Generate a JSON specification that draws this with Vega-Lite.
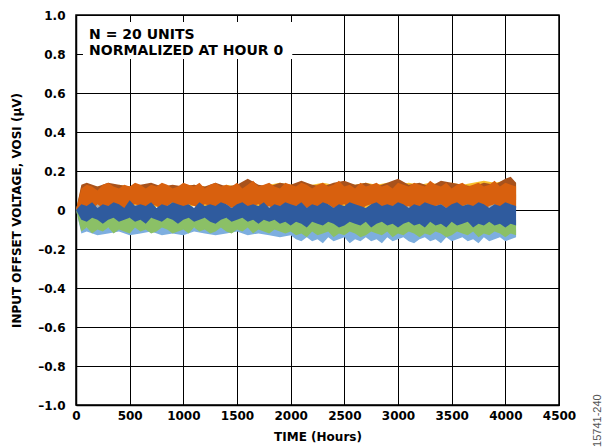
{
  "$schema": "https://vega.github.io/schema/vega-lite/v6.json",
  "width": 483,
  "height": 390,
  "autosize": {"type": "none"},
  "padding": {"left": 76, "top": 15, "right": 44, "bottom": 43},
  "background": "white",
  "config": {
    "view": {"stroke": "black", "strokeWidth": 1.5},
    "font": "DejaVu Sans",
    "axis": {
      "labelFont": "DejaVu Sans", "labelFontWeight": "bold", "labelFontSize": 12, "labelColor": "black",
      "titleFont": "DejaVu Sans", "titleFontWeight": "bold", "titleFontSize": 12, "titleColor": "black",
      "gridColor": "black", "gridOpacity": 1, "gridWidth": 1,
      "domainColor": "black", "domainWidth": 1.5, "ticks": false
    }
  },
  "datasets": {
    "bands": [
      {"s":"L","t":0,"lo":0,"hi":0},{"s":"L","t":50,"lo":-0.12,"hi":-0.08},{"s":"L","t":100,"lo":-0.11,"hi":-0.09},{"s":"L","t":200,"lo":-0.13,"hi":-0.08},{"s":"L","t":300,"lo":-0.12,"hi":-0.09},{"s":"L","t":400,"lo":-0.11,"hi":-0.08},{"s":"L","t":500,"lo":-0.13,"hi":-0.09},{"s":"L","t":600,"lo":-0.12,"hi":-0.08},{"s":"L","t":700,"lo":-0.11,"hi":-0.09},{"s":"L","t":800,"lo":-0.13,"hi":-0.08},{"s":"L","t":900,"lo":-0.12,"hi":-0.09},{"s":"L","t":1000,"lo":-0.13,"hi":-0.08},{"s":"L","t":1100,"lo":-0.11,"hi":-0.09},{"s":"L","t":1200,"lo":-0.12,"hi":-0.08},{"s":"L","t":1300,"lo":-0.13,"hi":-0.09},{"s":"L","t":1400,"lo":-0.12,"hi":-0.08},{"s":"L","t":1500,"lo":-0.11,"hi":-0.09},{"s":"L","t":1600,"lo":-0.13,"hi":-0.08},{"s":"L","t":1700,"lo":-0.12,"hi":-0.09},{"s":"L","t":1800,"lo":-0.13,"hi":-0.08},{"s":"L","t":1900,"lo":-0.14,"hi":-0.09},{"s":"L","t":2000,"lo":-0.13,"hi":-0.09},{"s":"L","t":2050,"lo":-0.15,"hi":-0.1},{"s":"L","t":2100,"lo":-0.16,"hi":-0.1},{"s":"L","t":2150,"lo":-0.14,"hi":-0.1},{"s":"L","t":2200,"lo":-0.16,"hi":-0.1},{"s":"L","t":2250,"lo":-0.15,"hi":-0.1},{"s":"L","t":2300,"lo":-0.17,"hi":-0.1},{"s":"L","t":2350,"lo":-0.14,"hi":-0.1},{"s":"L","t":2400,"lo":-0.16,"hi":-0.1},{"s":"L","t":2450,"lo":-0.15,"hi":-0.1},{"s":"L","t":2500,"lo":-0.14,"hi":-0.1},{"s":"L","t":2550,"lo":-0.17,"hi":-0.1},{"s":"L","t":2600,"lo":-0.15,"hi":-0.1},{"s":"L","t":2650,"lo":-0.16,"hi":-0.1},{"s":"L","t":2700,"lo":-0.14,"hi":-0.1},{"s":"L","t":2750,"lo":-0.16,"hi":-0.1},{"s":"L","t":2800,"lo":-0.15,"hi":-0.1},{"s":"L","t":2850,"lo":-0.17,"hi":-0.1},{"s":"L","t":2900,"lo":-0.14,"hi":-0.1},{"s":"L","t":2950,"lo":-0.16,"hi":-0.1},{"s":"L","t":3000,"lo":-0.15,"hi":-0.1},{"s":"L","t":3050,"lo":-0.14,"hi":-0.1},{"s":"L","t":3100,"lo":-0.16,"hi":-0.1},{"s":"L","t":3150,"lo":-0.17,"hi":-0.1},{"s":"L","t":3200,"lo":-0.15,"hi":-0.1},{"s":"L","t":3250,"lo":-0.14,"hi":-0.1},{"s":"L","t":3300,"lo":-0.16,"hi":-0.1},{"s":"L","t":3350,"lo":-0.15,"hi":-0.1},{"s":"L","t":3400,"lo":-0.17,"hi":-0.1},{"s":"L","t":3450,"lo":-0.14,"hi":-0.1},{"s":"L","t":3500,"lo":-0.16,"hi":-0.1},{"s":"L","t":3550,"lo":-0.15,"hi":-0.1},{"s":"L","t":3600,"lo":-0.14,"hi":-0.1},{"s":"L","t":3650,"lo":-0.16,"hi":-0.1},{"s":"L","t":3700,"lo":-0.15,"hi":-0.1},{"s":"L","t":3750,"lo":-0.17,"hi":-0.1},{"s":"L","t":3800,"lo":-0.14,"hi":-0.1},{"s":"L","t":3850,"lo":-0.16,"hi":-0.1},{"s":"L","t":3900,"lo":-0.15,"hi":-0.1},{"s":"L","t":3950,"lo":-0.14,"hi":-0.1},{"s":"L","t":4000,"lo":-0.16,"hi":-0.1},{"s":"L","t":4050,"lo":-0.15,"hi":-0.1},{"s":"L","t":4100,"lo":-0.14,"hi":-0.1},

      {"s":"G","t":0,"lo":0,"hi":0},{"s":"G","t":50,"lo":-0.11,"hi":-0.03},{"s":"G","t":100,"lo":-0.09,"hi":-0.04},{"s":"G","t":150,"lo":-0.12,"hi":-0.03},{"s":"G","t":200,"lo":-0.1,"hi":-0.04},{"s":"G","t":250,"lo":-0.11,"hi":-0.03},{"s":"G","t":300,"lo":-0.09,"hi":-0.04},{"s":"G","t":350,"lo":-0.12,"hi":-0.03},{"s":"G","t":400,"lo":-0.1,"hi":-0.04},{"s":"G","t":450,"lo":-0.11,"hi":-0.03},{"s":"G","t":500,"lo":-0.12,"hi":-0.04},{"s":"G","t":550,"lo":-0.09,"hi":-0.03},{"s":"G","t":600,"lo":-0.11,"hi":-0.04},{"s":"G","t":650,"lo":-0.1,"hi":-0.03},{"s":"G","t":700,"lo":-0.12,"hi":-0.04},{"s":"G","t":750,"lo":-0.11,"hi":-0.03},{"s":"G","t":800,"lo":-0.09,"hi":-0.04},{"s":"G","t":850,"lo":-0.1,"hi":-0.03},{"s":"G","t":900,"lo":-0.12,"hi":-0.04},{"s":"G","t":950,"lo":-0.11,"hi":-0.03},{"s":"G","t":1000,"lo":-0.1,"hi":-0.04},{"s":"G","t":1050,"lo":-0.12,"hi":-0.03},{"s":"G","t":1100,"lo":-0.09,"hi":-0.04},{"s":"G","t":1150,"lo":-0.11,"hi":-0.03},{"s":"G","t":1200,"lo":-0.1,"hi":-0.04},{"s":"G","t":1250,"lo":-0.12,"hi":-0.03},{"s":"G","t":1300,"lo":-0.11,"hi":-0.04},{"s":"G","t":1350,"lo":-0.09,"hi":-0.03},{"s":"G","t":1400,"lo":-0.11,"hi":-0.04},{"s":"G","t":1450,"lo":-0.12,"hi":-0.03},{"s":"G","t":1500,"lo":-0.1,"hi":-0.04},{"s":"G","t":1550,"lo":-0.11,"hi":-0.03},{"s":"G","t":1600,"lo":-0.09,"hi":-0.04},{"s":"G","t":1650,"lo":-0.12,"hi":-0.03},{"s":"G","t":1700,"lo":-0.1,"hi":-0.04},{"s":"G","t":1750,"lo":-0.11,"hi":-0.03},{"s":"G","t":1800,"lo":-0.12,"hi":-0.04},{"s":"G","t":1850,"lo":-0.1,"hi":-0.03},{"s":"G","t":1900,"lo":-0.11,"hi":-0.04},{"s":"G","t":1950,"lo":-0.12,"hi":-0.03},{"s":"G","t":2000,"lo":-0.11,"hi":-0.05},{"s":"G","t":2050,"lo":-0.13,"hi":-0.04},{"s":"G","t":2100,"lo":-0.12,"hi":-0.05},{"s":"G","t":2150,"lo":-0.14,"hi":-0.04},{"s":"G","t":2200,"lo":-0.11,"hi":-0.05},{"s":"G","t":2250,"lo":-0.13,"hi":-0.04},{"s":"G","t":2300,"lo":-0.12,"hi":-0.05},{"s":"G","t":2350,"lo":-0.11,"hi":-0.04},{"s":"G","t":2400,"lo":-0.14,"hi":-0.05},{"s":"G","t":2450,"lo":-0.12,"hi":-0.04},{"s":"G","t":2500,"lo":-0.13,"hi":-0.05},{"s":"G","t":2550,"lo":-0.11,"hi":-0.04},{"s":"G","t":2600,"lo":-0.12,"hi":-0.05},{"s":"G","t":2650,"lo":-0.14,"hi":-0.04},{"s":"G","t":2700,"lo":-0.13,"hi":-0.05},{"s":"G","t":2750,"lo":-0.11,"hi":-0.04},{"s":"G","t":2800,"lo":-0.12,"hi":-0.05},{"s":"G","t":2850,"lo":-0.13,"hi":-0.04},{"s":"G","t":2900,"lo":-0.11,"hi":-0.05},{"s":"G","t":2950,"lo":-0.14,"hi":-0.04},{"s":"G","t":3000,"lo":-0.12,"hi":-0.05},{"s":"G","t":3050,"lo":-0.13,"hi":-0.04},{"s":"G","t":3100,"lo":-0.11,"hi":-0.05},{"s":"G","t":3150,"lo":-0.12,"hi":-0.04},{"s":"G","t":3200,"lo":-0.14,"hi":-0.05},{"s":"G","t":3250,"lo":-0.12,"hi":-0.04},{"s":"G","t":3300,"lo":-0.13,"hi":-0.05},{"s":"G","t":3350,"lo":-0.11,"hi":-0.04},{"s":"G","t":3400,"lo":-0.12,"hi":-0.05},{"s":"G","t":3450,"lo":-0.14,"hi":-0.04},{"s":"G","t":3500,"lo":-0.13,"hi":-0.05},{"s":"G","t":3550,"lo":-0.11,"hi":-0.04},{"s":"G","t":3600,"lo":-0.12,"hi":-0.05},{"s":"G","t":3650,"lo":-0.13,"hi":-0.04},{"s":"G","t":3700,"lo":-0.11,"hi":-0.05},{"s":"G","t":3750,"lo":-0.14,"hi":-0.04},{"s":"G","t":3800,"lo":-0.12,"hi":-0.05},{"s":"G","t":3850,"lo":-0.13,"hi":-0.04},{"s":"G","t":3900,"lo":-0.11,"hi":-0.05},{"s":"G","t":3950,"lo":-0.12,"hi":-0.04},{"s":"G","t":4000,"lo":-0.14,"hi":-0.05},{"s":"G","t":4050,"lo":-0.12,"hi":-0.04},{"s":"G","t":4100,"lo":-0.13,"hi":-0.05},

      {"s":"Gr","t":0,"lo":0,"hi":0},{"s":"Gr","t":100,"lo":0.02,"hi":0.08},{"s":"Gr","t":200,"lo":0.01,"hi":0.08},{"s":"Gr","t":300,"lo":0.02,"hi":0.08},{"s":"Gr","t":400,"lo":0.01,"hi":0.08},{"s":"Gr","t":500,"lo":0.02,"hi":0.08},{"s":"Gr","t":600,"lo":0.01,"hi":0.08},{"s":"Gr","t":700,"lo":0.02,"hi":0.08},{"s":"Gr","t":800,"lo":0.01,"hi":0.08},{"s":"Gr","t":900,"lo":0.02,"hi":0.08},{"s":"Gr","t":1000,"lo":0.01,"hi":0.08},{"s":"Gr","t":1100,"lo":0.02,"hi":0.08},{"s":"Gr","t":1200,"lo":0.01,"hi":0.08},{"s":"Gr","t":1300,"lo":0.02,"hi":0.08},{"s":"Gr","t":1400,"lo":0.01,"hi":0.08},{"s":"Gr","t":1500,"lo":0.02,"hi":0.08},{"s":"Gr","t":1600,"lo":0.01,"hi":0.08},{"s":"Gr","t":1700,"lo":0.02,"hi":0.08},{"s":"Gr","t":1800,"lo":0.01,"hi":0.08},{"s":"Gr","t":1900,"lo":0.02,"hi":0.08},{"s":"Gr","t":2000,"lo":0.01,"hi":0.08},{"s":"Gr","t":2100,"lo":0.0,"hi":0.08},{"s":"Gr","t":2200,"lo":0.01,"hi":0.08},{"s":"Gr","t":2300,"lo":0.0,"hi":0.08},{"s":"Gr","t":2400,"lo":0.01,"hi":0.08},{"s":"Gr","t":2500,"lo":0.0,"hi":0.08},{"s":"Gr","t":2600,"lo":0.01,"hi":0.08},{"s":"Gr","t":2700,"lo":0.0,"hi":0.08},{"s":"Gr","t":2800,"lo":0.01,"hi":0.08},{"s":"Gr","t":2900,"lo":0.0,"hi":0.08},{"s":"Gr","t":3000,"lo":0.01,"hi":0.08},{"s":"Gr","t":3100,"lo":0.0,"hi":0.08},{"s":"Gr","t":3200,"lo":0.01,"hi":0.08},{"s":"Gr","t":3300,"lo":0.0,"hi":0.08},{"s":"Gr","t":3400,"lo":0.01,"hi":0.08},{"s":"Gr","t":3500,"lo":0.0,"hi":0.08},{"s":"Gr","t":3600,"lo":0.01,"hi":0.08},{"s":"Gr","t":3700,"lo":0.0,"hi":0.08},{"s":"Gr","t":3800,"lo":0.01,"hi":0.08},{"s":"Gr","t":3900,"lo":0.0,"hi":0.08},{"s":"Gr","t":4000,"lo":0.01,"hi":0.08},{"s":"Gr","t":4100,"lo":0.0,"hi":0.08},

      {"s":"Y","t":0,"lo":0,"hi":0},{"s":"Y","t":50,"lo":0.02,"hi":0.12},{"s":"Y","t":100,"lo":0.01,"hi":0.11},{"s":"Y","t":200,"lo":0.03,"hi":0.12},{"s":"Y","t":300,"lo":0.02,"hi":0.11},{"s":"Y","t":400,"lo":0.01,"hi":0.13},{"s":"Y","t":500,"lo":0.02,"hi":0.12},{"s":"Y","t":600,"lo":0.03,"hi":0.11},{"s":"Y","t":700,"lo":0.01,"hi":0.12},{"s":"Y","t":800,"lo":0.02,"hi":0.13},{"s":"Y","t":900,"lo":0.03,"hi":0.11},{"s":"Y","t":1000,"lo":0.01,"hi":0.12},{"s":"Y","t":1100,"lo":0.02,"hi":0.13},{"s":"Y","t":1200,"lo":0.01,"hi":0.12},{"s":"Y","t":1300,"lo":0.02,"hi":0.11},{"s":"Y","t":1400,"lo":0.03,"hi":0.13},{"s":"Y","t":1500,"lo":0.01,"hi":0.12},{"s":"Y","t":1600,"lo":0.02,"hi":0.13},{"s":"Y","t":1700,"lo":0.01,"hi":0.12},{"s":"Y","t":1800,"lo":0.02,"hi":0.13},{"s":"Y","t":1900,"lo":0.03,"hi":0.14},{"s":"Y","t":2000,"lo":0.01,"hi":0.13},{"s":"Y","t":2100,"lo":0.02,"hi":0.14},{"s":"Y","t":2200,"lo":0.01,"hi":0.13},{"s":"Y","t":2300,"lo":0.02,"hi":0.14},{"s":"Y","t":2400,"lo":0.03,"hi":0.13},{"s":"Y","t":2500,"lo":0.01,"hi":0.14},{"s":"Y","t":2600,"lo":0.02,"hi":0.13},{"s":"Y","t":2700,"lo":0.01,"hi":0.14},{"s":"Y","t":2800,"lo":0.02,"hi":0.13},{"s":"Y","t":2900,"lo":0.03,"hi":0.14},{"s":"Y","t":3000,"lo":0.01,"hi":0.13},{"s":"Y","t":3100,"lo":0.02,"hi":0.14},{"s":"Y","t":3200,"lo":0.01,"hi":0.13},{"s":"Y","t":3300,"lo":0.02,"hi":0.14},{"s":"Y","t":3400,"lo":0.03,"hi":0.13},{"s":"Y","t":3500,"lo":0.01,"hi":0.14},{"s":"Y","t":3600,"lo":0.02,"hi":0.13},{"s":"Y","t":3700,"lo":0.01,"hi":0.14},{"s":"Y","t":3800,"lo":0.02,"hi":0.15},{"s":"Y","t":3900,"lo":0.03,"hi":0.14},{"s":"Y","t":4000,"lo":0.02,"hi":0.15},{"s":"Y","t":4100,"lo":0.01,"hi":0.14},

      {"s":"R","t":0,"lo":0,"hi":0},{"s":"R","t":50,"lo":0.05,"hi":0.13},{"s":"R","t":100,"lo":0.06,"hi":0.14},{"s":"R","t":200,"lo":0.05,"hi":0.12},{"s":"R","t":300,"lo":0.06,"hi":0.14},{"s":"R","t":400,"lo":0.05,"hi":0.13},{"s":"R","t":500,"lo":0.06,"hi":0.12},{"s":"R","t":600,"lo":0.05,"hi":0.13},{"s":"R","t":700,"lo":0.06,"hi":0.14},{"s":"R","t":800,"lo":0.05,"hi":0.12},{"s":"R","t":900,"lo":0.06,"hi":0.13},{"s":"R","t":1000,"lo":0.05,"hi":0.12},{"s":"R","t":1100,"lo":0.06,"hi":0.13},{"s":"R","t":1200,"lo":0.05,"hi":0.12},{"s":"R","t":1300,"lo":0.06,"hi":0.14},{"s":"R","t":1400,"lo":0.05,"hi":0.12},{"s":"R","t":1500,"lo":0.06,"hi":0.13},{"s":"R","t":1600,"lo":0.05,"hi":0.16},{"s":"R","t":1700,"lo":0.06,"hi":0.13},{"s":"R","t":1800,"lo":0.05,"hi":0.12},{"s":"R","t":1900,"lo":0.06,"hi":0.14},{"s":"R","t":2000,"lo":0.05,"hi":0.13},{"s":"R","t":2100,"lo":0.06,"hi":0.15},{"s":"R","t":2200,"lo":0.05,"hi":0.13},{"s":"R","t":2300,"lo":0.06,"hi":0.12},{"s":"R","t":2400,"lo":0.05,"hi":0.14},{"s":"R","t":2500,"lo":0.06,"hi":0.15},{"s":"R","t":2600,"lo":0.05,"hi":0.13},{"s":"R","t":2700,"lo":0.06,"hi":0.14},{"s":"R","t":2800,"lo":0.05,"hi":0.12},{"s":"R","t":2900,"lo":0.06,"hi":0.14},{"s":"R","t":3000,"lo":0.05,"hi":0.16},{"s":"R","t":3100,"lo":0.06,"hi":0.13},{"s":"R","t":3200,"lo":0.05,"hi":0.14},{"s":"R","t":3300,"lo":0.06,"hi":0.12},{"s":"R","t":3400,"lo":0.05,"hi":0.15},{"s":"R","t":3500,"lo":0.06,"hi":0.14},{"s":"R","t":3600,"lo":0.05,"hi":0.13},{"s":"R","t":3700,"lo":0.06,"hi":0.12},{"s":"R","t":3800,"lo":0.05,"hi":0.14},{"s":"R","t":3900,"lo":0.06,"hi":0.13},{"s":"R","t":4000,"lo":0.05,"hi":0.16},{"s":"R","t":4050,"lo":0.06,"hi":0.17},{"s":"R","t":4100,"lo":0.05,"hi":0.14},

      {"s":"O","t":0,"lo":0,"hi":0},{"s":"O","t":50,"lo":0.01,"hi":0.11},{"s":"O","t":100,"lo":0.02,"hi":0.13},{"s":"O","t":150,"lo":0.0,"hi":0.12},{"s":"O","t":200,"lo":0.03,"hi":0.1},{"s":"O","t":250,"lo":0.01,"hi":0.13},{"s":"O","t":300,"lo":0.02,"hi":0.14},{"s":"O","t":350,"lo":0.03,"hi":0.12},{"s":"O","t":400,"lo":0.01,"hi":0.11},{"s":"O","t":450,"lo":0.0,"hi":0.13},{"s":"O","t":500,"lo":0.02,"hi":0.12},{"s":"O","t":550,"lo":0.03,"hi":0.14},{"s":"O","t":600,"lo":0.02,"hi":0.13},{"s":"O","t":650,"lo":0.01,"hi":0.11},{"s":"O","t":700,"lo":0.03,"hi":0.13},{"s":"O","t":750,"lo":0.02,"hi":0.12},{"s":"O","t":800,"lo":0.0,"hi":0.14},{"s":"O","t":850,"lo":0.02,"hi":0.13},{"s":"O","t":900,"lo":0.04,"hi":0.11},{"s":"O","t":950,"lo":0.02,"hi":0.12},{"s":"O","t":1000,"lo":0.01,"hi":0.14},{"s":"O","t":1050,"lo":0.03,"hi":0.13},{"s":"O","t":1100,"lo":0.02,"hi":0.12},{"s":"O","t":1150,"lo":0.01,"hi":0.14},{"s":"O","t":1200,"lo":0.03,"hi":0.11},{"s":"O","t":1250,"lo":0.02,"hi":0.13},{"s":"O","t":1300,"lo":0.0,"hi":0.14},{"s":"O","t":1350,"lo":0.02,"hi":0.12},{"s":"O","t":1400,"lo":0.03,"hi":0.13},{"s":"O","t":1450,"lo":0.01,"hi":0.12},{"s":"O","t":1500,"lo":0.02,"hi":0.14},{"s":"O","t":1550,"lo":0.03,"hi":0.11},{"s":"O","t":1600,"lo":0.01,"hi":0.13},{"s":"O","t":1650,"lo":0.02,"hi":0.15},{"s":"O","t":1700,"lo":0.03,"hi":0.12},{"s":"O","t":1750,"lo":0.01,"hi":0.13},{"s":"O","t":1800,"lo":0.02,"hi":0.14},{"s":"O","t":1850,"lo":0.0,"hi":0.12},{"s":"O","t":1900,"lo":0.02,"hi":0.11},{"s":"O","t":1950,"lo":0.03,"hi":0.14},{"s":"O","t":2000,"lo":0.01,"hi":0.13},{"s":"O","t":2050,"lo":0.02,"hi":0.12},{"s":"O","t":2100,"lo":0.03,"hi":0.14},{"s":"O","t":2150,"lo":0.01,"hi":0.13},{"s":"O","t":2200,"lo":0.02,"hi":0.11},{"s":"O","t":2250,"lo":0.0,"hi":0.13},{"s":"O","t":2300,"lo":0.02,"hi":0.14},{"s":"O","t":2350,"lo":0.03,"hi":0.12},{"s":"O","t":2400,"lo":0.01,"hi":0.13},{"s":"O","t":2450,"lo":0.02,"hi":0.15},{"s":"O","t":2500,"lo":0.03,"hi":0.12},{"s":"O","t":2550,"lo":0.01,"hi":0.13},{"s":"O","t":2600,"lo":0.02,"hi":0.11},{"s":"O","t":2650,"lo":0.0,"hi":0.14},{"s":"O","t":2700,"lo":0.02,"hi":0.12},{"s":"O","t":2750,"lo":0.03,"hi":0.13},{"s":"O","t":2800,"lo":0.01,"hi":0.14},{"s":"O","t":2850,"lo":0.02,"hi":0.12},{"s":"O","t":2900,"lo":0.0,"hi":0.13},{"s":"O","t":2950,"lo":0.02,"hi":0.11},{"s":"O","t":3000,"lo":0.03,"hi":0.14},{"s":"O","t":3050,"lo":0.01,"hi":0.13},{"s":"O","t":3100,"lo":0.02,"hi":0.12},{"s":"O","t":3150,"lo":0.0,"hi":0.14},{"s":"O","t":3200,"lo":0.02,"hi":0.13},{"s":"O","t":3250,"lo":0.03,"hi":0.12},{"s":"O","t":3300,"lo":0.01,"hi":0.15},{"s":"O","t":3350,"lo":0.02,"hi":0.13},{"s":"O","t":3400,"lo":0.03,"hi":0.12},{"s":"O","t":3450,"lo":0.01,"hi":0.14},{"s":"O","t":3500,"lo":0.02,"hi":0.11},{"s":"O","t":3550,"lo":0.0,"hi":0.13},{"s":"O","t":3600,"lo":0.02,"hi":0.14},{"s":"O","t":3650,"lo":0.03,"hi":0.12},{"s":"O","t":3700,"lo":0.01,"hi":0.13},{"s":"O","t":3750,"lo":0.02,"hi":0.14},{"s":"O","t":3800,"lo":0.0,"hi":0.12},{"s":"O","t":3850,"lo":0.02,"hi":0.13},{"s":"O","t":3900,"lo":0.03,"hi":0.15},{"s":"O","t":3950,"lo":0.01,"hi":0.12},{"s":"O","t":4000,"lo":0.02,"hi":0.14},{"s":"O","t":4050,"lo":0.03,"hi":0.13},{"s":"O","t":4100,"lo":0.01,"hi":0.12},

      {"s":"B","t":0,"lo":0,"hi":0},{"s":"B","t":50,"lo":-0.05,"hi":0.03},{"s":"B","t":100,"lo":-0.06,"hi":0.02},{"s":"B","t":150,"lo":-0.04,"hi":0.04},{"s":"B","t":200,"lo":-0.05,"hi":0.01},{"s":"B","t":250,"lo":-0.07,"hi":0.03},{"s":"B","t":300,"lo":-0.05,"hi":0.02},{"s":"B","t":350,"lo":-0.04,"hi":0.04},{"s":"B","t":400,"lo":-0.06,"hi":0.03},{"s":"B","t":450,"lo":-0.05,"hi":0.01},{"s":"B","t":500,"lo":-0.04,"hi":0.05},{"s":"B","t":550,"lo":-0.06,"hi":0.02},{"s":"B","t":600,"lo":-0.05,"hi":0.03},{"s":"B","t":650,"lo":-0.07,"hi":0.02},{"s":"B","t":700,"lo":-0.04,"hi":0.04},{"s":"B","t":750,"lo":-0.05,"hi":0.01},{"s":"B","t":800,"lo":-0.06,"hi":0.03},{"s":"B","t":850,"lo":-0.04,"hi":0.02},{"s":"B","t":900,"lo":-0.05,"hi":0.04},{"s":"B","t":950,"lo":-0.07,"hi":0.03},{"s":"B","t":1000,"lo":-0.05,"hi":0.02},{"s":"B","t":1050,"lo":-0.04,"hi":0.03},{"s":"B","t":1100,"lo":-0.06,"hi":0.01},{"s":"B","t":1150,"lo":-0.05,"hi":0.04},{"s":"B","t":1200,"lo":-0.04,"hi":0.02},{"s":"B","t":1250,"lo":-0.06,"hi":0.03},{"s":"B","t":1300,"lo":-0.07,"hi":0.02},{"s":"B","t":1350,"lo":-0.05,"hi":0.04},{"s":"B","t":1400,"lo":-0.04,"hi":0.03},{"s":"B","t":1450,"lo":-0.06,"hi":0.01},{"s":"B","t":1500,"lo":-0.05,"hi":0.03},{"s":"B","t":1550,"lo":-0.04,"hi":0.04},{"s":"B","t":1600,"lo":-0.06,"hi":0.02},{"s":"B","t":1650,"lo":-0.05,"hi":0.03},{"s":"B","t":1700,"lo":-0.07,"hi":0.02},{"s":"B","t":1750,"lo":-0.05,"hi":0.04},{"s":"B","t":1800,"lo":-0.06,"hi":0.01},{"s":"B","t":1850,"lo":-0.05,"hi":0.03},{"s":"B","t":1900,"lo":-0.07,"hi":0.02},{"s":"B","t":1950,"lo":-0.06,"hi":0.04},{"s":"B","t":2000,"lo":-0.08,"hi":0.03},{"s":"B","t":2050,"lo":-0.06,"hi":0.02},{"s":"B","t":2100,"lo":-0.07,"hi":0.04},{"s":"B","t":2150,"lo":-0.09,"hi":0.01},{"s":"B","t":2200,"lo":-0.06,"hi":0.03},{"s":"B","t":2250,"lo":-0.07,"hi":0.02},{"s":"B","t":2300,"lo":-0.08,"hi":0.04},{"s":"B","t":2350,"lo":-0.06,"hi":0.03},{"s":"B","t":2400,"lo":-0.07,"hi":0.01},{"s":"B","t":2450,"lo":-0.09,"hi":0.03},{"s":"B","t":2500,"lo":-0.08,"hi":0.02},{"s":"B","t":2550,"lo":-0.06,"hi":0.04},{"s":"B","t":2600,"lo":-0.07,"hi":0.03},{"s":"B","t":2650,"lo":-0.08,"hi":0.02},{"s":"B","t":2700,"lo":-0.06,"hi":0.01},{"s":"B","t":2750,"lo":-0.09,"hi":0.03},{"s":"B","t":2800,"lo":-0.07,"hi":0.04},{"s":"B","t":2850,"lo":-0.06,"hi":0.02},{"s":"B","t":2900,"lo":-0.08,"hi":0.03},{"s":"B","t":2950,"lo":-0.07,"hi":0.02},{"s":"B","t":3000,"lo":-0.09,"hi":0.04},{"s":"B","t":3050,"lo":-0.07,"hi":0.03},{"s":"B","t":3100,"lo":-0.06,"hi":0.01},{"s":"B","t":3150,"lo":-0.08,"hi":0.03},{"s":"B","t":3200,"lo":-0.07,"hi":0.02},{"s":"B","t":3250,"lo":-0.09,"hi":0.04},{"s":"B","t":3300,"lo":-0.06,"hi":0.03},{"s":"B","t":3350,"lo":-0.08,"hi":0.02},{"s":"B","t":3400,"lo":-0.07,"hi":0.03},{"s":"B","t":3450,"lo":-0.09,"hi":0.01},{"s":"B","t":3500,"lo":-0.06,"hi":0.03},{"s":"B","t":3550,"lo":-0.08,"hi":0.04},{"s":"B","t":3600,"lo":-0.07,"hi":0.02},{"s":"B","t":3650,"lo":-0.06,"hi":0.03},{"s":"B","t":3700,"lo":-0.09,"hi":0.02},{"s":"B","t":3750,"lo":-0.07,"hi":0.04},{"s":"B","t":3800,"lo":-0.08,"hi":0.03},{"s":"B","t":3850,"lo":-0.06,"hi":0.01},{"s":"B","t":3900,"lo":-0.08,"hi":0.03},{"s":"B","t":3950,"lo":-0.07,"hi":0.02},{"s":"B","t":4000,"lo":-0.09,"hi":0.04},{"s":"B","t":4050,"lo":-0.07,"hi":0.03},{"s":"B","t":4100,"lo":-0.08,"hi":0.02}
    ],
    "box": [{"t": 65, "x2": 2015, "lo": 0.774, "y2": 0.964}],
    "notes": [
      {"t": 122, "lo": 0.9, "label": "N = 20 UNITS"},
      {"t": 122, "lo": 0.815, "label": "NORMALIZED AT HOUR 0"}
    ],
    "code": [{"t": 4859, "lo": -1.08, "label": "15741-240"}]
  },
  "encoding": {
    "x": {"field": "t", "type": "quantitative",
          "scale": {"domain": [0, 4500], "nice": false},
          "axis": {"title": "TIME (Hours)", "values": [0,500,1000,1500,2000,2500,3000,3500,4000,4500],
                   "format": "d", "grid": true, "labelPadding": 5, "titlePadding": 10, "labelFlush": false}},
    "y": {"field": "lo", "type": "quantitative",
          "scale": {"domain": [-1, 1], "nice": false},
          "axis": {"title": "INPUT OFFSET VOLTAGE, VOSI (µV)",
                   "values": [-1,-0.8,-0.6,-0.4,-0.2,0,0.2,0.4,0.6,0.8,1],
                   "grid": true, "labelPadding": 11, "titlePadding": 14, "labelFlush": false,
                   "labelExpr": "datum.value == 0 ? '0' : (datum.value < 0 ? '–' + format(-datum.value, '.1f') : format(datum.value, '.1f'))"}}
  },
  "layer": [
    {
      "data": {"name": "bands"},
      "mark": {"type": "area", "interpolate": "linear", "opacity": 1},
      "encoding": {
        "y2": {"field": "hi"},
        "color": {"field": "s", "type": "nominal", "legend": null,
                  "scale": {"domain": ["L","G","Gr","Y","R","O","B"],
                            "range": ["#7DAEDF","#8BC066","#A9A9A9","#F9BF2C","#A8521C","#D8600E","#2F5B9E"]}}
      }
    },
    {
      "data": {"name": "box"},
      "mark": {"type": "rect", "fill": "white", "stroke": null},
      "encoding": {
        "x2": {"field": "x2"},
        "y2": {"field": "y2"}
      }
    },
    {
      "data": {"name": "notes"},
      "mark": {"type": "text", "align": "left", "baseline": "middle", "font": "DejaVu Sans", "fontWeight": "bold", "fontSize": 14, "color": "black"},
      "encoding": {
        "text": {"field": "label"}
      }
    },
    {
      "data": {"name": "code"},
      "mark": {"type": "text", "align": "center", "baseline": "middle", "angle": 270, "font": "Liberation Sans", "fontSize": 11, "color": "#555"},
      "encoding": {
        "text": {"field": "label"}
      }
    }
  ]
}
